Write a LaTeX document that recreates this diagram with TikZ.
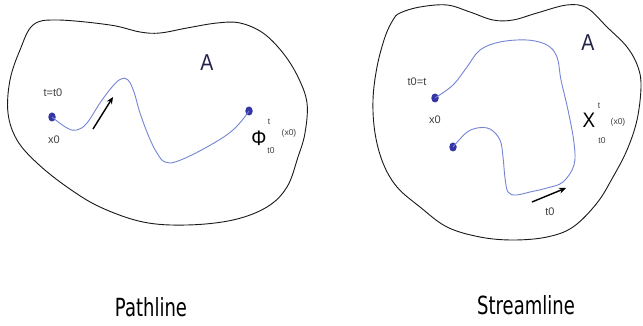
\documentclass[tikz,border=0pt]{standalone}
\usepackage{fontspec}
\usepackage{graphicx}
\setmainfont{Liberation Sans}
\newfontfamily\titlefont{DejaVu Sans}
\usetikzlibrary{arrows.meta,shapes.geometric}
\definecolor{curveblue}{HTML}{7585D6}
\definecolor{dotblue}{HTML}{3535A5}
\definecolor{navy}{HTML}{22224A}
\tikzset{
  outline/.style={draw=black!90, line width=0.9pt},
  flowcurve/.style={draw=curveblue, line width=0.9pt},
  pointdot/.style={ellipse, fill=dotblue, draw=none, minimum width=7.5pt, minimum height=9pt, inner sep=0pt},
  smalllabel/.style={font=\fontsize{11}{12}\selectfont, text=black!75, inner sep=0pt},
  tinylabel/.style={font=\fontsize{8.5}{9}\selectfont, text=black!75, inner sep=0pt},
  biglabel/.style={font=\fontsize{23}{26}\selectfont, text=navy, inner sep=0pt},
  greeklabel/.style={font=\fontsize{21}{23}\selectfont, text=black, inner sep=0pt},
  titlelabel/.style={font=\titlefont\fontsize{25}{30}\selectfont, text=black, inner sep=0pt},
  timearrow/.style={draw=black, line width=1.4pt, -{Stealth[length=7pt,width=6pt]}}
}
\begin{document}
\begin{tikzpicture}[x=1pt,y=-1pt]
\useasboundingbox (0,0) rectangle (643,326);
\fill[white] (0,0) rectangle (643,326);

% ---------- left region (pathline) ----------
\draw[outline] plot[smooth cycle, tension=0.6] coordinates {
  (33,25) (57,20) (110,25) (140,32) (160,33) (187,28) (217,23) (240,23)
  (263,33) (283,53) (298,77) (307,103) (305,133) (298,157) (287,187)
  (267,207) (233,220) (187,225) (143,222) (100,207) (67,187) (37,163)
  (17,140) (8,113) (10,80) (20,50)};

\node[pointdot] (lx0) at (52,117) {};
\node[pointdot] (lend) at (249,111) {};
\draw[flowcurve] plot[smooth, tension=0.65] coordinates {
  (lx0.center) (67,128) (77,130) (87,123) (100,103) (112,87) (121,79)
  (128,80) (134,92) (140,113) (149,137) (157,153) (165,162) (178,161) (207,147)
  (233,130) (lend.center)};

\coordinate (la1) at (93,129);
\coordinate (la2) at (113,97);
\draw[timearrow] (la1) -- (la2);

\node[smalllabel] (ltt) at (53,93) {t=t0};
\node[smalllabel] (lxl) at (54,140) {x0};
\node[biglabel] (lA) at (207,63) {\scalebox{0.85}[1]{A}};
\node[greeklabel] (lphi) at (259,138) {\scalebox{0.9}[1]{Φ}};
\node[tinylabel] (lsup) at (269,122) {t};
\node[tinylabel] (lsub) at (271,151) {t0};
\node[tinylabel] (larg) at (289,133) {(x0)};

% ---------- right region (streamline) ----------
\draw[outline] plot[smooth cycle, tension=0.6] coordinates {
  (400,13) (420,7) (447,5) (470,12) (493,20) (513,20) (537,13) (567,5)
  (587,8) (607,27) (627,47) (638,67) (641,87) (637,120) (627,150)
  (613,177) (597,203) (573,227) (547,237) (513,240) (480,237) (447,227)
  (420,207) (397,187) (383,163) (375,133) (373,100) (377,67) (385,37)
  (393,20)};

\node[pointdot] (rx0) at (435,98) {};
\node[pointdot] (rend) at (453,147) {};
\draw[flowcurve] plot[smooth, tension=0.6] coordinates {
  (rx0.center) (453,85) (467,67) (480,50) (500,42) (527,40) (547,45)
  (557,57) (561,80) (568,110) (574,143) (574,165) (563,182) (547,188)
  (530,192) (516,195) (508,192) (505,178) (503,157) (500,140) (490,129)
  (477,128) (466,133) (rend.center)};

\coordinate (ra1) at (532,202);
\coordinate (ra2) at (566,188);
\draw[timearrow] (ra1) -- (ra2);

\node[smalllabel] (rtt) at (417,82) {t0=t};
\node[smalllabel] (rxl) at (435,120) {x0};
\node[biglabel] (rA) at (588,43) {\scalebox{0.85}[1]{A}};
\node[greeklabel] (rchi) at (589,120) {\scalebox{0.9}[1]{Χ}};
\node[tinylabel] (rsup) at (599,106) {t};
\node[tinylabel] (rsub) at (602,141) {t0};
\node[tinylabel] (rarg) at (618,122) {(x0)};
\node[smalllabel] (rt0) at (550,212) {t0};

% ---------- titles ----------
\node[titlelabel] (ptitle) at (151,307) {\scalebox{0.72}[1]{Pathline}};
\node[titlelabel] (stitle) at (526,305) {\scalebox{0.72}[1]{Streamline}};
\end{tikzpicture}
\end{document}
